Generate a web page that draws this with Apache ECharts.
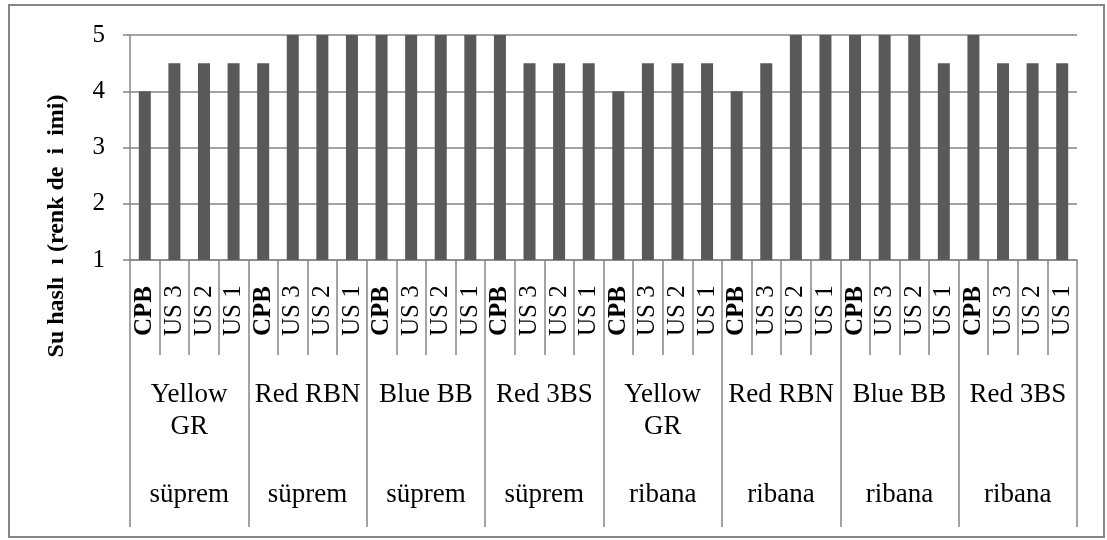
<!DOCTYPE html>
<html>
<head>
<meta charset="utf-8">
<script src="https://cdn.jsdelivr.net/npm/echarts@6/dist/echarts.min.js"></script>
<style>
  html, body { margin: 0; padding: 0; background: #ffffff; }
  #chart { width: 1107px; height: 540px; }
</style>
</head>
<body>
<div id="chart"></div>
<script>
// Sample codes within each dye group
const samples = ['CPB', 'US 3', 'US 2', 'US 1'];
// Dye groups (second level) and fabric types (third level)
const dyes = ['Yellow\nGR', 'Red RBN', 'Blue BB', 'Red 3BS', 'Yellow\nGR', 'Red RBN', 'Blue BB', 'Red 3BS'];
const fabrics = ['süprem', 'süprem', 'süprem', 'süprem', 'ribana', 'ribana', 'ribana', 'ribana'];

// Water fastness ratings (colour change), one array per fabric
const supremValues = [4, 4.5, 4.5, 4.5,  4.5, 5, 5, 5,  5, 5, 5, 5,  5, 4.5, 4.5, 4.5];
const ribanaValues = [4, 4.5, 4.5, 4.5,  4, 4.5, 5, 5,  5, 5, 5, 4.5,  5, 4.5, 4.5, 4.5];

// Y axis scale
const yMin = 1, yMax = 5, yStep = 1;
const yTitle = 'Su haslı  ı (renk de  i  imi)';

const categories = [];
dyes.forEach(() => samples.forEach(s => categories.push(s)));
const values = supremValues.concat(ribanaValues);

const FONT = "'Liberation Serif', 'Times New Roman', serif";
const GRAY = '#868686';

const chart = echarts.init(document.getElementById('chart'), null, { renderer: 'canvas' });

chart.setOption({
  animation: false,
  backgroundColor: '#ffffff',
  grid: { left: 130, right: 30, top: 35, bottom: 280, containLabel: false },
  graphic: [{
    type: 'rect',
    shape: { x: 9, y: 5, width: 1095, height: 532 },
    style: { fill: 'none', stroke: GRAY, lineWidth: 2 },
    silent: true
  }, {
    type: 'text',
    x: 57, y: 226,
    rotation: Math.PI / 2,
    style: {
      text: yTitle,
      font: "bold 24px 'Liberation Serif', 'Times New Roman', serif",
      fill: '#000000',
      align: 'center',
      verticalAlign: 'middle'
    },
    silent: true
  }],
  xAxis: [{
    type: 'category',
    data: categories,
    position: 'bottom',
    boundaryGap: true,
    axisLine: { show: true, lineStyle: { color: GRAY, width: 1.5 } },
    axisTick: { show: true, interval: 0, length: 95, lineStyle: { color: GRAY, width: 1.5 } },
    axisLabel: {
      interval: 0,
      rotate: 90,
      align: 'left',
      margin: 76,
      fontFamily: FONT,
      fontSize: 25,
      color: '#000000',
      formatter: v => (v === 'CPB' ? '{b|' + v + '}' : v),
      rich: { b: { fontWeight: 'bold', fontFamily: FONT, fontSize: 25, color: '#000000' } }
    },
    splitLine: { show: false }
  }, {
    type: 'category',
    data: dyes,
    position: 'bottom',
    boundaryGap: true,
    axisLine: { show: false },
    axisTick: { show: true, interval: 0, length: 267, lineStyle: { color: GRAY, width: 1.5 } },
    axisLabel: {
      interval: 0,
      margin: 119,
      fontFamily: FONT,
      fontSize: 27,
      lineHeight: 32,
      color: '#000000',
      align: 'center'
    },
    splitLine: { show: false }
  }, {
    type: 'category',
    data: fabrics,
    position: 'bottom',
    boundaryGap: true,
    axisLine: { show: false },
    axisTick: { show: false },
    axisLabel: {
      interval: 0,
      margin: 219,
      fontFamily: FONT,
      fontSize: 27,
      lineHeight: 32,
      color: '#000000',
      align: 'center'
    },
    splitLine: { show: false }
  }],
  yAxis: {
    type: 'value',
    min: yMin,
    max: yMax,
    interval: yStep,
    axisLine: { show: true, lineStyle: { color: GRAY, width: 1.5 } },
    axisTick: { show: true, length: 7, lineStyle: { color: GRAY, width: 1.5 } },
    axisLabel: { margin: 25, fontFamily: FONT, fontSize: 25, color: '#000000' },
    splitLine: { show: true, lineStyle: { color: GRAY, width: 1.5 } }
  },
  series: [{
    type: 'bar',
    xAxisIndex: 0,
    data: values,
    barWidth: 12,
    clip: true,
    itemStyle: { color: '#595959' }
  }]
});
</script>
</body>
</html>
